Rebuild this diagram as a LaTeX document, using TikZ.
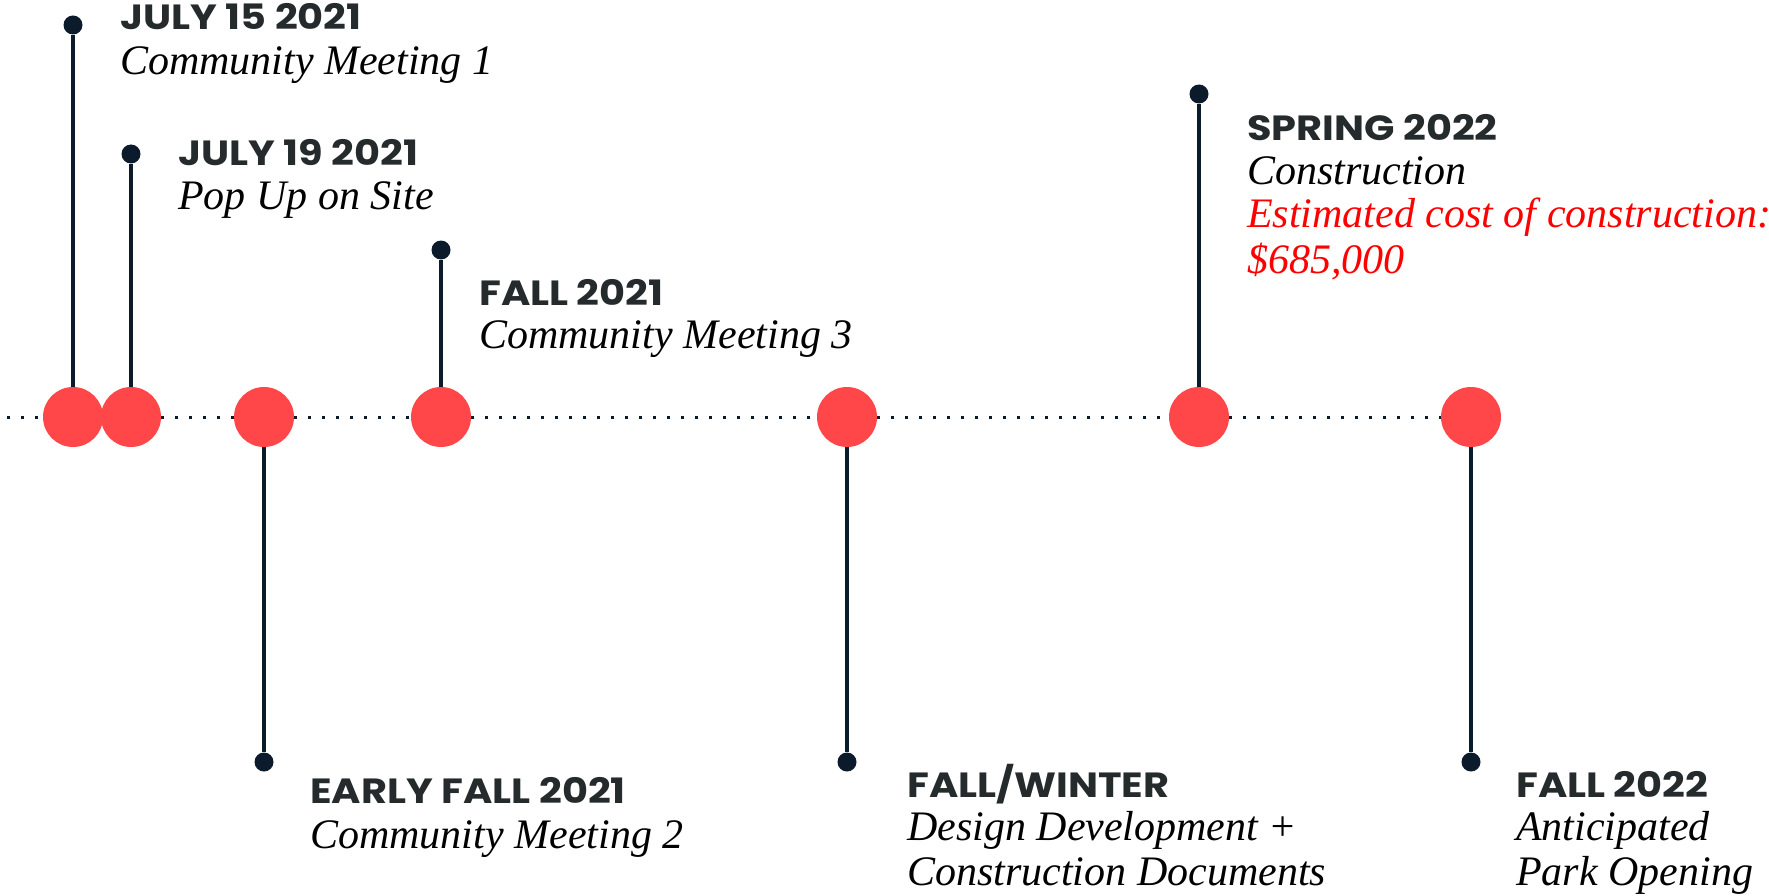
\documentclass[tikz,border=0pt]{standalone}
\usepackage{fontspec}
\usetikzlibrary{positioning}
\newfontfamily\datefont{Poppins}[FakeStretch=1.14]
\newfontfamily\notefont{Liberation Serif}
\definecolor{stemnavy}{HTML}{0B1B2B}
\definecolor{markred}{HTML}{FF474A}
\definecolor{dategray}{HTML}{252B2C}
\definecolor{costred}{HTML}{FF0000}

\begin{document}
\begin{tikzpicture}[x=1pt,y=-1pt]

      \tikzstyle{milestone}=[circle,fill=markred,
        minimum size=60pt,inner sep=0pt]
      \tikzstyle{pin}=[circle,fill=stemnavy,
        minimum size=19pt,inner sep=0pt]
      \tikzstyle{stem}=[line width=4pt,stemnavy]
      \tikzstyle{dotline}=[line width=3pt,stemnavy,
        dash pattern=on 3pt off 11pt]
      \tikzstyle{date}=[anchor=base west,inner sep=0pt,text=dategray,
        font=\datefont\bfseries\fontsize{35}{40}\selectfont]
      \tikzstyle{note}=[anchor=base west,inner sep=0pt,
        font=\notefont\itshape\fontsize{42}{46}\selectfont]

      \useasboundingbox (0,0) rectangle (1769,896);

      % timeline
      \coordinate (Start) at (7,417);
      \node(M1)[milestone] at (73,417){};
      \node(M2)[milestone] at (131,417){};
      \node(M3)[milestone] at (264,417){};
      \node(M4)[milestone] at (441,417){};
      \node(M5)[milestone] at (847,417){};
      \node(M6)[milestone] at (1199,417){};
      \node(M7)[milestone] at (1471,417){};

      \draw [dotline] (Start)--(M1);
      \draw [dotline] (M2)--(M3);
      \draw [dotline] (M3)--(M4);
      \draw [dotline] (M4)--(M5);
      \draw [dotline] (M5)--(M6);
      \draw [dotline] (M6)--(M7);

      % pins
      \node(P1)[pin] at (73,25){};
      \node(P2)[pin] at (131,154){};
      \node(P3)[pin] at (264,762){};
      \node(P4)[pin] at (441,250){};
      \node(P5)[pin] at (847,762){};
      \node(P6)[pin] at (1199,94){};
      \node(P7)[pin] at (1471,762){};

      \draw [stem] (P1)--(M1);
      \draw [stem] (P2)--(M2);
      \draw [stem] (P3)--(M3);
      \draw [stem] (P4)--(M4);
      \draw [stem] (P5)--(M5);
      \draw [stem] (P6)--(M6);
      \draw [stem] (P7)--(M7);

      % labels
      \node(Date1)[date] at (120,30){JULY 15 2021};
      \node(Note1)[note,below=45pt of Date1.base west,
        anchor=base west]{Community Meeting 1};

      \node(Date2)[date] at (178,166){JULY 19 2021};
      \node(Note2)[note,below=44pt of Date2.base west,
        anchor=base west]{Pop Up on Site};

      \node(Date4)[date] at (479,305){FALL 2021};
      \node(Note4)[note,below=43pt of Date4.base west,
        anchor=base west]{Community Meeting 3};

      \node(Date6)[date] at (1247,141){SPRING 2022};
      \node(Note6)[note,below=44pt of Date6.base west,
        anchor=base west]{Construction};
      \node(Cost6)[note,text=costred,below=43pt of Note6.base west,
        anchor=base west]{Estimated cost of construction:};
      \node(Sum6)[note,text=costred,below=45pt of Cost6.base west,
        anchor=base west]{\$685,000};

      \node(Date3)[date] at (310,803){EARLY FALL 2021};
      \node(Note3)[note,below=45pt of Date3.base west,
        anchor=base west]{Community Meeting 2};

      \node(Date5)[date] at (907,797){FALL/WINTER};
      \node(Note5)[note,below=43pt of Date5.base west,
        anchor=base west]{Design Development +};
      \node(Docs5)[note,below=45pt of Note5.base west,
        anchor=base west]{Construction Documents};

      \node(Date7)[date] at (1516,797){FALL 2022};
      \node(Note7)[note,below=43pt of Date7.base west,
        anchor=base west]{Anticipated};
      \node(Open7)[note,below=45pt of Note7.base west,
        anchor=base west]{Park Opening};

    \end{tikzpicture}
\end{document}
